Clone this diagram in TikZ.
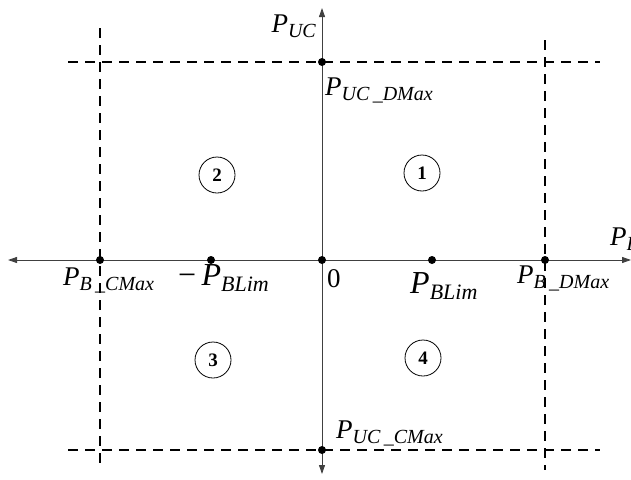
\documentclass[tikz,border=0pt]{standalone}
\usepackage{fontspec}
\setmainfont{Liberation Serif}
\usetikzlibrary{positioning,arrows.meta}

\newcommand{\qty}[3][20]{\textit{#2}\raisebox{-0.45ex}{\fontsize{#1}{#1}\selectfont\itshape #3}}

\begin{document}
\begin{tikzpicture}[x=1pt, y=-1pt,
        axis/.style={draw=black!75, line width=0.9pt, {Triangle[length=9pt,width=6pt]}-{Triangle[length=9pt,width=6pt]}},
        limit/.style={draw=black, line width=1.1pt, dash pattern=on 10pt off 7pt},
        dot/.style={circle, fill=black, inner sep=0pt, minimum size=8pt},
        lab/.style={font=\fontsize{27}{30}\selectfont, inner sep=0pt},
        biglab/.style={font=\fontsize{32}{34}\selectfont, inner sep=0pt},
        zone/.style={draw, circle, line width=0.8pt, minimum size=36pt, inner sep=0pt, font=\fontsize{19}{19}\selectfont\bfseries}
    ]
    \useasboundingbox (0,0) rectangle (631,479);

    % axes
    \coordinate (xleft) at (8,260);
    \coordinate (xright) at (631,260);
    \coordinate (ybottom) at (322,474);
    \coordinate (ytop) at (322,8);
    \draw[axis] (xleft) -- (xright);
    \draw[axis] (ybottom) -- (ytop);

    % limits
    \coordinate (topL) at (68,62);
    \coordinate (topR) at (600,62);
    \coordinate (botL) at (68,450);
    \coordinate (botR) at (600,450);
    \coordinate (leftT) at (100,28);
    \coordinate (leftB) at (100,470);
    \coordinate (rightT) at (545,40);
    \coordinate (rightB) at (545,470);
    \draw[limit] (topL) -- (topR);
    \draw[limit] (botL) -- (botR);
    \draw[limit] (leftT) -- (leftB);
    \draw[limit] (rightT) -- (rightB);

    % points
    \node[dot] (origin) at (322,260) {};
    \node[dot] (ucdmax) at (322,62) {};
    \node[dot] (uccmax) at (322,450) {};
    \node[dot] (bcmax) at (100,260) {};
    \node[dot] (bdmax) at (545,260) {};
    \node[dot] (nblim) at (211,260) {};
    \node[dot] (pblim) at (432,260) {};

    % labels
    \node[lab, anchor=base east] (lucaxis) at (316,32) {\qty{P}{UC}};
    \node[lab, anchor=base west] (lbaxis) at (610,245) {\qty{P}{B}};
    \node[lab, anchor=base west] (lucd) at (325,95) {\qty{P}{UC\,\_DMax}};
    \node[lab, anchor=base west] (lucc) at (336,438) {\qty{P}{UC\,\_CMax}};
    \node[lab, anchor=base west] (lbc) at (63,285) {\qty{P}{B\,\_CMax}};
    \node[lab, anchor=base west] (lbd) at (517,283) {\qty{P}{B\,\_DMax}};
    \node[biglab, anchor=base west] (lnb) at (178,285) {−\,\qty[22]{P}{BLim}};
    \node[biglab, anchor=base west] (lpb) at (410,293) {\qty[22]{P}{BLim}};
    \node[lab, anchor=base west] (lzero) at (327,287) {0};

    % operating zones
    \node[zone] (z1) at (422,173) {1};
    \node[zone] (z2) at (217,175) {2};
    \node[zone] (z3) at (213,360) {3};
    \node[zone] (z4) at (423,358) {4};
\end{tikzpicture}
\end{document}
